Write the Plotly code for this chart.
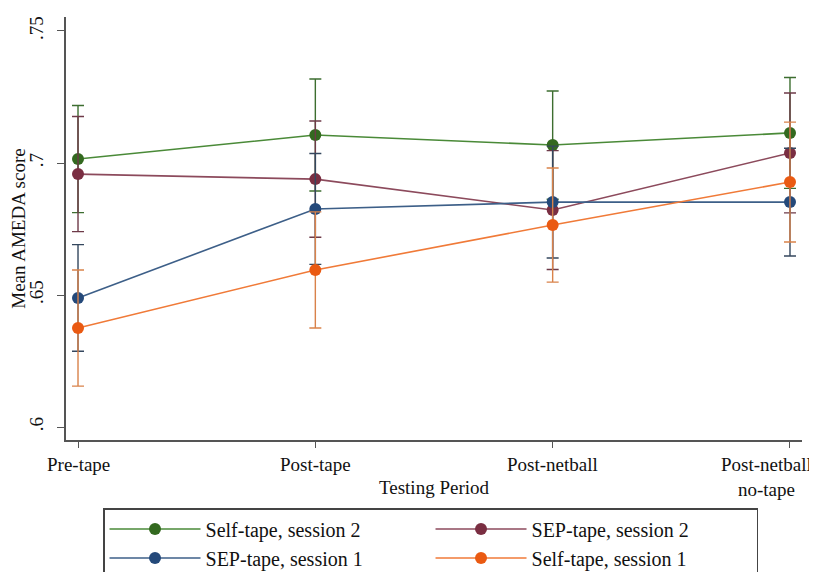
import plotly.graph_objects as go

categories = ["Pre-tape", "Post-tape", "Post-netball", "Post-netball<br>no-tape"]
series_names = ["Self-tape, session 2", "SEP-tape, session 2", "SEP-tape, session 1", "Self-tape, session 1"]
self_s2 = [0.7015, 0.7106, 0.7068, 0.7114]
self_s2_err = [0.0203, 0.0212, 0.0205, 0.0210]
sep_s2 = [0.6958, 0.6939, 0.6822, 0.7038]
sep_s2_err = [0.0218, 0.0220, 0.0225, 0.0227]
sep_s1 = [0.6489, 0.6826, 0.6852, 0.6852]
sep_s1_err = [0.0202, 0.0210, 0.0212, 0.0204]
self_s1 = [0.6375, 0.6595, 0.6765, 0.6928]
self_s1_err = [0.0220, 0.0220, 0.0216, 0.0227]
y_tick_vals = [0.6, 0.65, 0.7, 0.75]
y_tick_text = [".6", ".65", ".7", ".75"]

values = [self_s2, sep_s2, sep_s1, self_s1]
errors = [self_s2_err, sep_s2_err, sep_s1_err, self_s1_err]
line_colors = ["#4a8a38", "#8c4a5c", "#3d5f88", "#f07a38"]
marker_colors = ["#33691f", "#7a2e42", "#24497a", "#ea5a12"]
err_colors = ["#3d6e30", "#6e3a48", "#34475e", "#d9824a"]

FONT = "Liberation Serif"
xs = list(range(len(categories)))

fig = go.Figure()
for name, v, e, lc, mc, ec in zip(series_names, values, errors, line_colors, marker_colors, err_colors):
    fig.add_trace(go.Scatter(
        x=xs, y=v, name=name, mode="lines+markers",
        line=dict(color=lc, width=1.6),
        marker=dict(color=mc, size=12),
        error_y=dict(type="data", array=e, visible=True, color=ec, thickness=1.4, width=6),
    ))

for i, c in enumerate(categories):
    shift = -23 if i == len(categories) - 1 else 0
    fig.add_annotation(x=i, y=0, xref="x", yref="paper", text=c, showarrow=False,
                       yanchor="top", yshift=-12, xshift=shift,
                       font=dict(family=FONT, size=19, color="#111"), align="center")

# page body has an 8px default margin; the figure runs past the window bottom,
# so the legend box is cut off there just as in the reference
fig.update_layout(
    width=809, height=600,
    margin=dict(l=58, r=15, t=9, b=168),
    paper_bgcolor="white", plot_bgcolor="white",
    font=dict(family=FONT, size=18, color="#111"),
    showlegend=True,
    legend=dict(
        orientation="h", x=0.0503, y=-0.1608, xanchor="left", yanchor="top",
        bordercolor="#444", borderwidth=1.5, bgcolor="white",
        font=dict(family=FONT, size=20, color="#111"),
        entrywidth=220, itemwidth=91, tracegroupgap=0,
    ),
    xaxis=dict(
        range=[-0.0506, 3.0506], tickvals=xs, ticktext=[""] * len(xs),
        showline=True, linecolor="#555", linewidth=2, ticks="outside",
        ticklen=6, tickcolor="#555", showgrid=False, zeroline=False, automargin=False,
        title=dict(text="Testing Period", font=dict(family=FONT, size=19), standoff=30),
    ),
    yaxis=dict(
        range=[0.5951, 0.7553], tickvals=y_tick_vals, ticktext=y_tick_text,
        tickangle=-90, showline=True, linecolor="#555", linewidth=2, automargin=False,
        ticks="outside", ticklen=7, tickcolor="#555", showgrid=False, zeroline=False,
        tickfont=dict(family=FONT, size=19), ticklabelstandoff=6,
        title=dict(text="Mean AMEDA score", font=dict(family=FONT, size=19), standoff=4),
    ),
)

fig.write_html("out.html")
